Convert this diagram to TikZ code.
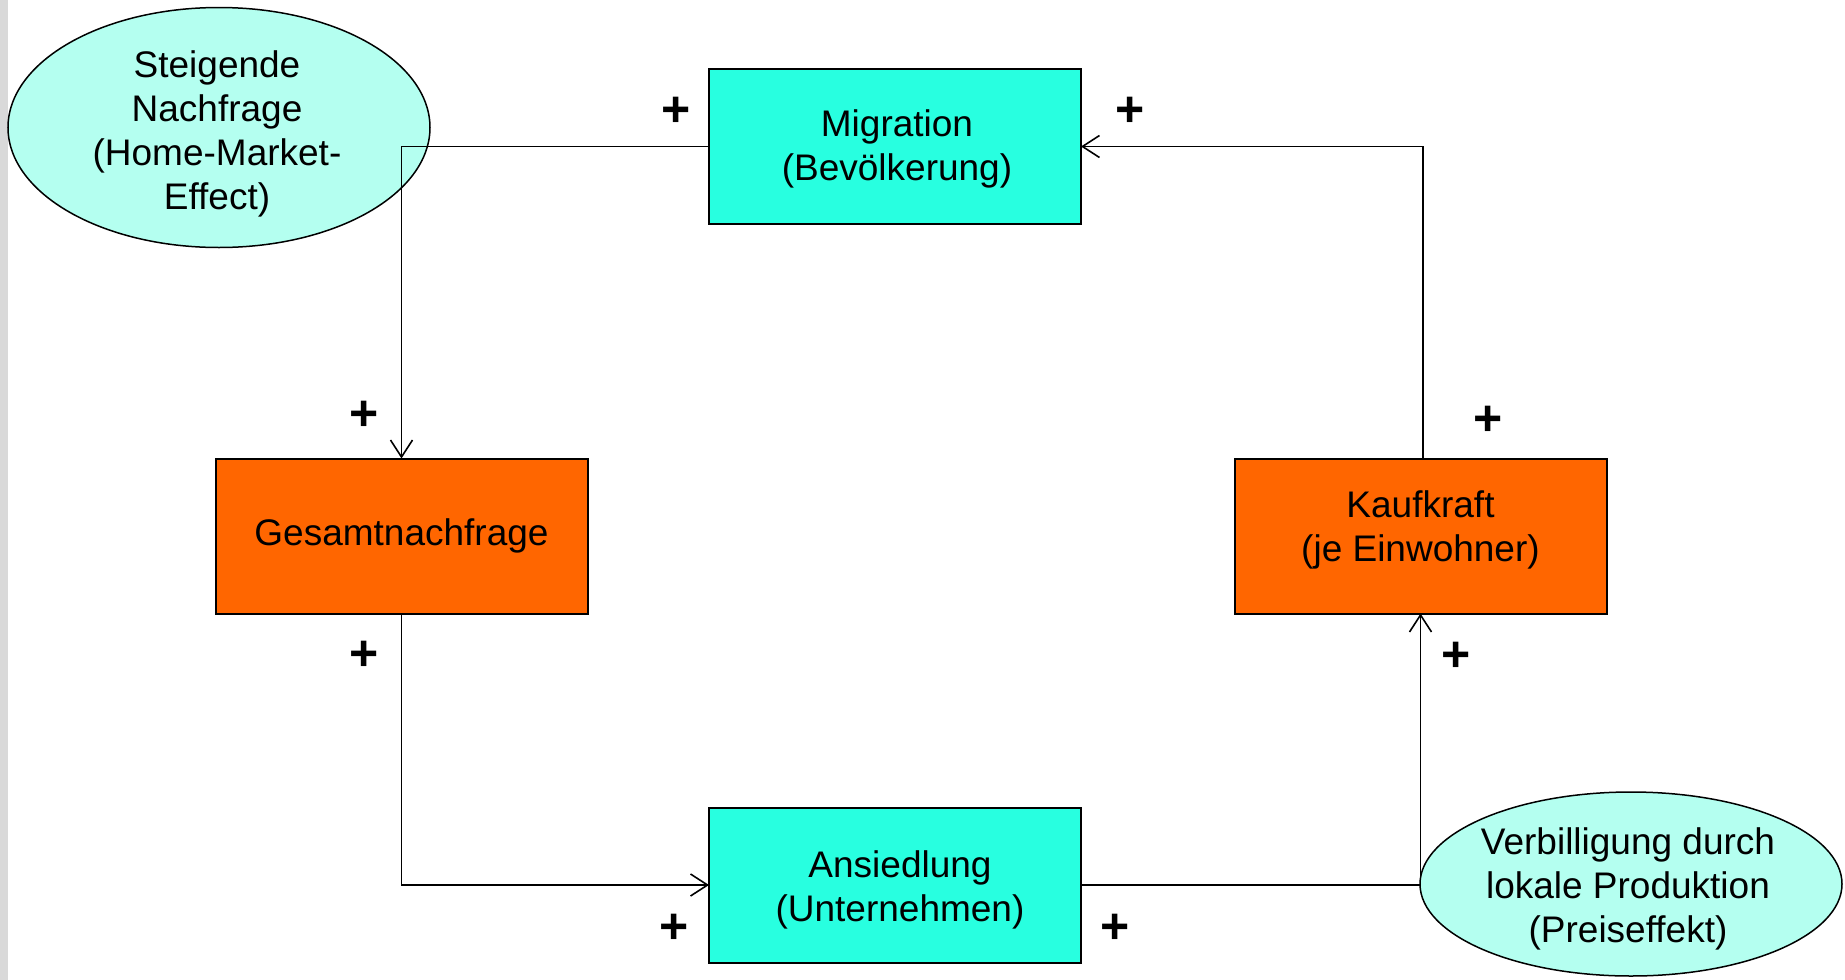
\documentclass[tikz,border=0pt]{standalone}
\usepackage{fontspec}
\setmainfont{Liberation Sans}
\usetikzlibrary{shapes.geometric,arrows.meta}
\definecolor{boxcyan}{RGB}{40,255,224}
\definecolor{ellcyan}{RGB}{180,255,240}
\definecolor{boxorange}{RGB}{255,102,0}
\definecolor{sidebar}{RGB}{217,217,217}

\begin{document}
\begin{tikzpicture}[x=1pt,y=-1pt,
  every node/.style={font=\fontsize{37}{44}\selectfont},
  factor/.style={draw, line width=2pt, minimum width=372pt, minimum height=155pt,
                 align=center, inner sep=0pt, outer sep=0pt},
  cyanbox/.style={factor, fill=boxcyan},
  orangebox/.style={factor, fill=boxorange},
  effect/.style={ellipse, draw, line width=1.5pt, fill=ellcyan, inner sep=0pt},
  label text/.style={align=center, inner sep=0pt},
  link/.style={line width=1.8pt},
  arrowlink/.style={link, -{Straight Barb[length=17pt,width=22pt,line width=1.6pt]}},
  sign/.style={font=\fontsize{50}{50}\selectfont\bfseries, inner sep=0pt, xshift=2pt, yshift=-3pt}]

\useasboundingbox (0,0) rectangle (1845,980);
\fill[sidebar] (0,0) rectangle (8,980);

% side effects
\node[effect, minimum width=422pt, minimum height=240pt] (demand) at (219,127.5) {};
\node[label text] (demandtext) at (217,134) {Steigende\\Nachfrage\\(Home-Market-\\Effect)};
\node[effect, minimum width=422pt, minimum height=184pt] (price) at (1631,884) {};
\node[label text] (pricetext) at (1628,889) {Verbilligung durch\\lokale Produktion\\(Preiseffekt)};

% loop factors
\node[cyanbox] (mig) at (895,146.5) {};
\node[label text] (migtext) at (897,149) {Migration\\(Bevölkerung)};
\node[orangebox] (ges) at (401.5,536) {Gesamtnachfrage};
\node[orangebox] (kauf) at (1420.5,536) {};
\node[label text] (kauftext) at (1420.5,530) {Kaufkraft\\(je Einwohner)};
\node[cyanbox] (ans) at (895,885) {};
\node[label text] (anstext) at (900,890) {Ansiedlung\\(Unternehmen)};

% feedback loop
\draw[arrowlink] (mig.west) -| (ges.north);
\draw[arrowlink] (ges.south) |- (ans.west);
\draw[arrowlink] (ans.east) -| (kauf.south);
\draw[arrowlink] ([xshift=2.5pt]kauf.north) |- (mig.east);

% signs
\node[sign] (s1) at (674,109) {+};
\node[sign] (s2) at (1128,109) {+};
\node[sign] (s3) at (362,413) {+};
\node[sign] (s4) at (1486,418) {+};
\node[sign] (s5) at (362,653) {+};
\node[sign] (s6) at (1454,654) {+};
\node[sign] (s7) at (672,926) {+};
\node[sign] (s8) at (1113,926) {+};
\end{tikzpicture}
\end{document}
